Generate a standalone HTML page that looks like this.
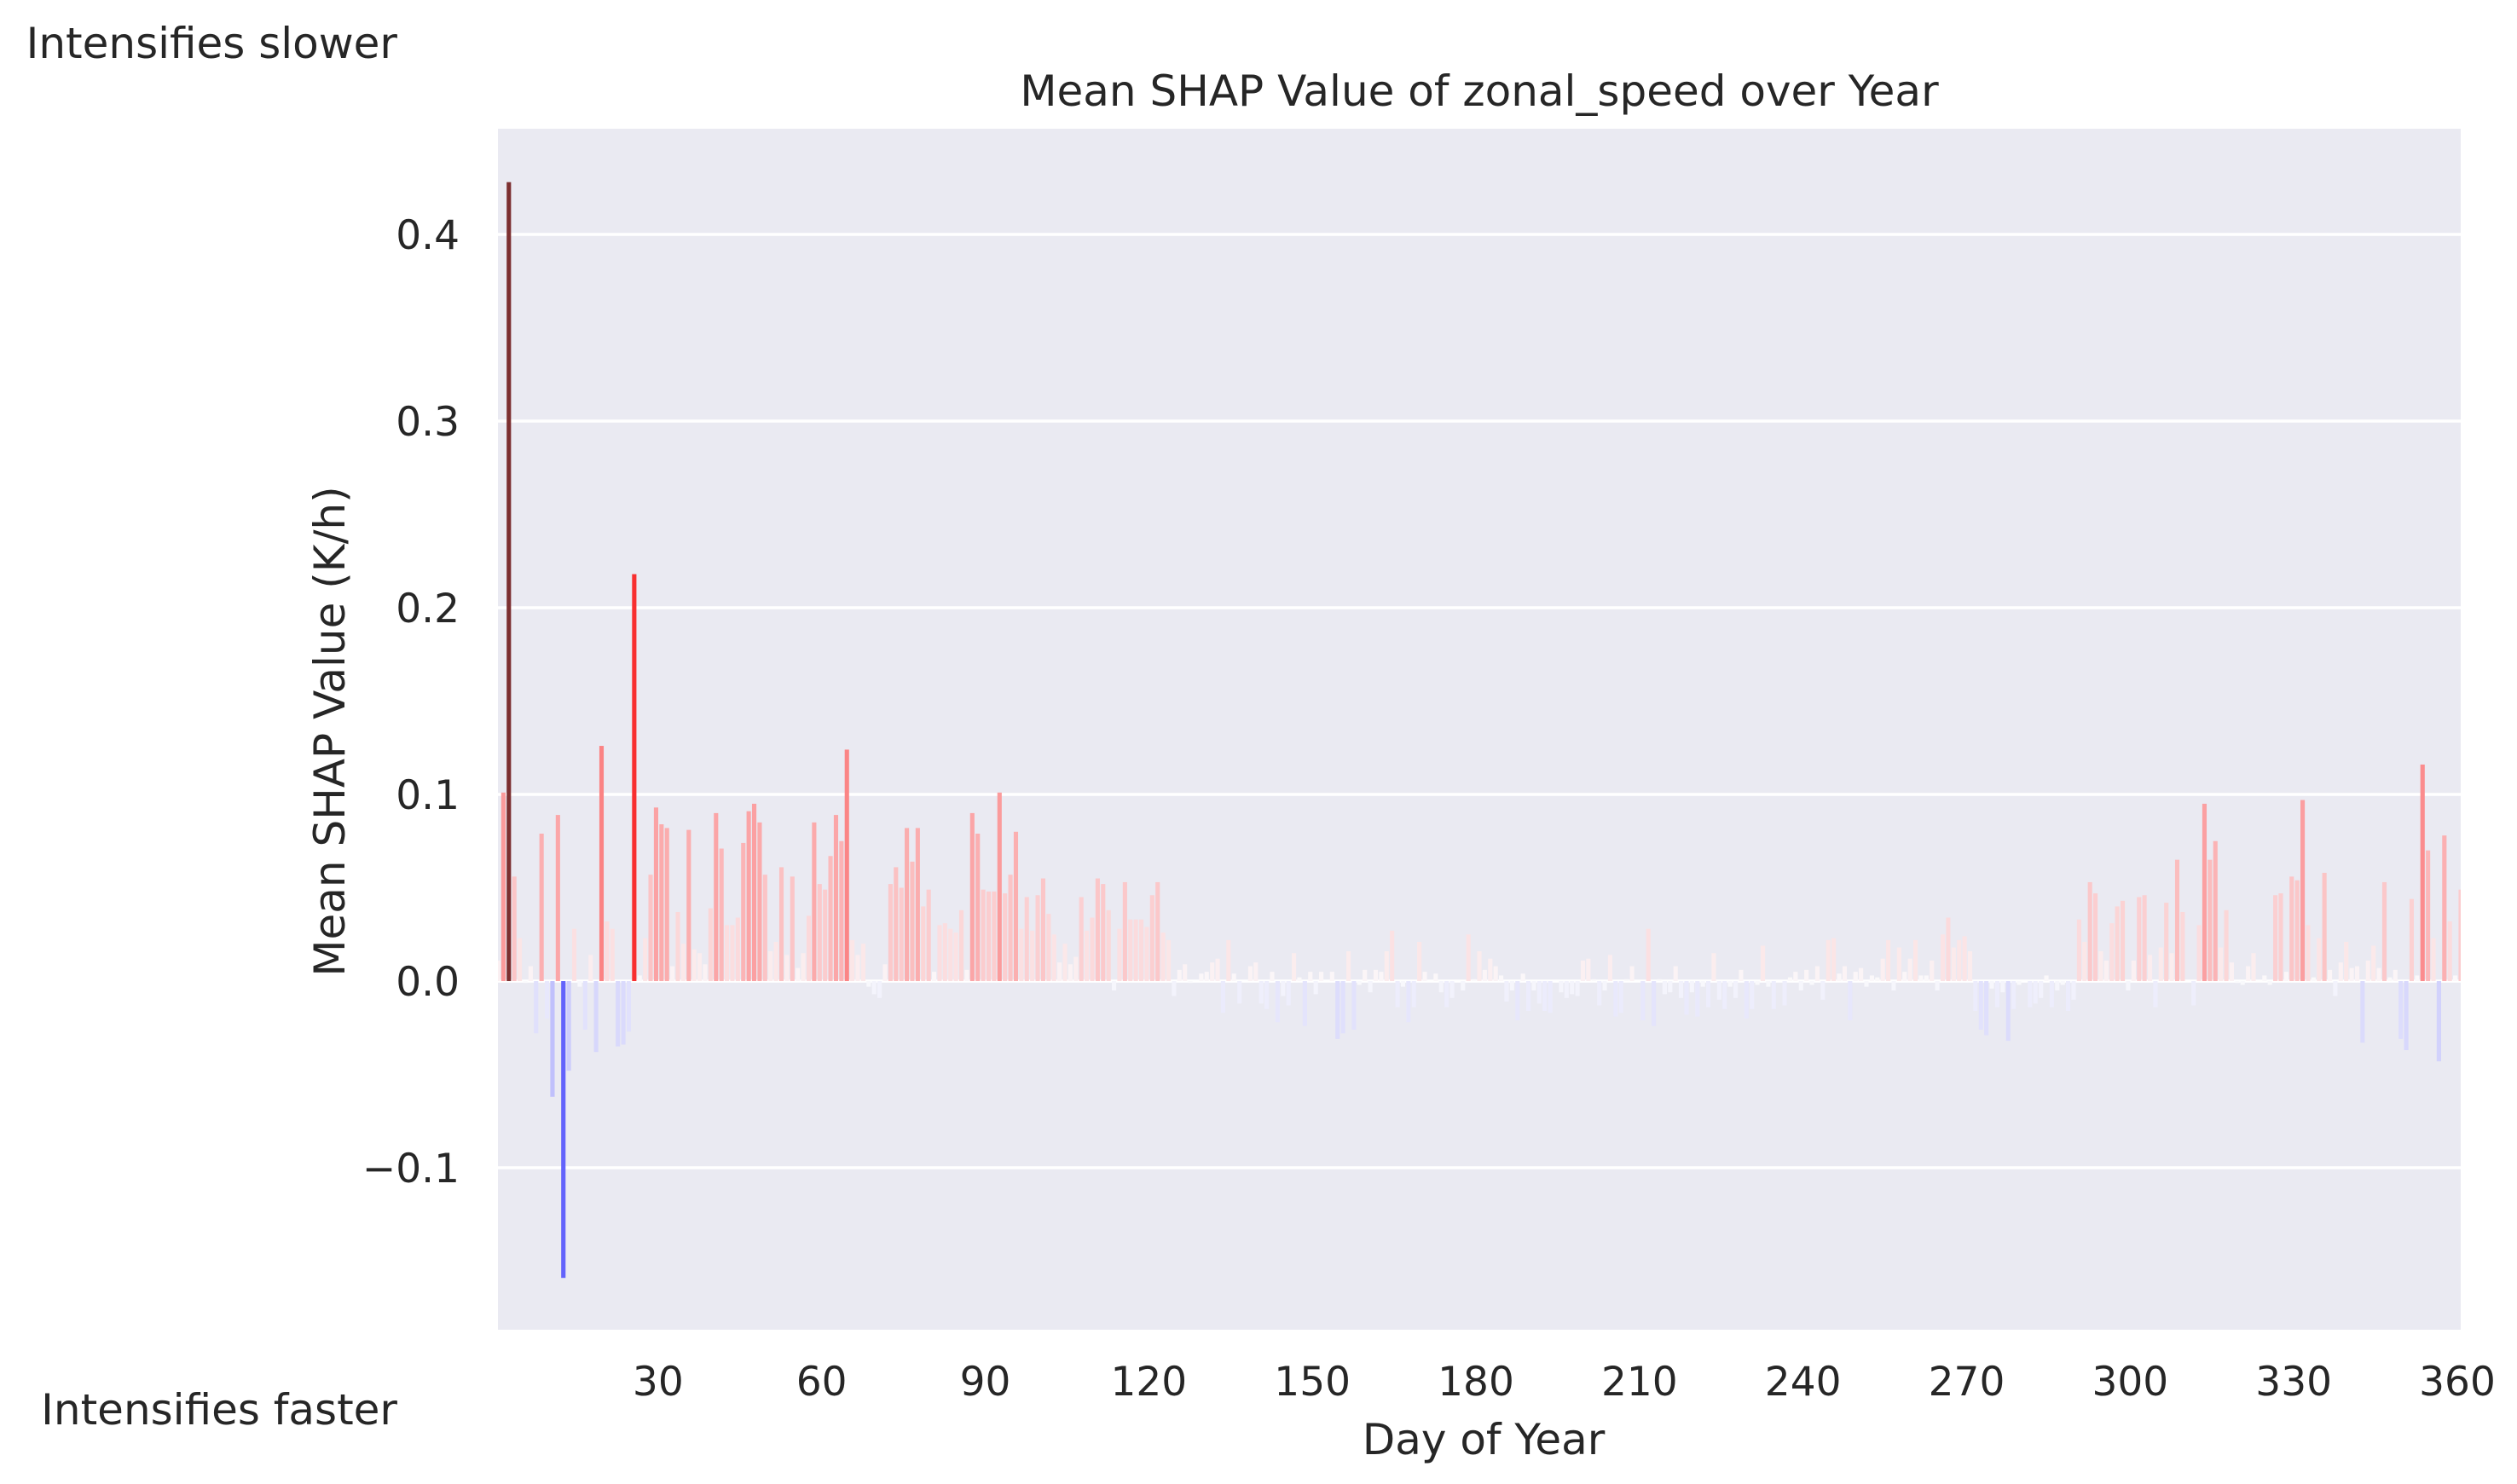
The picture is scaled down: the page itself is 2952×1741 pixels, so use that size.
<!DOCTYPE html>
<html><head><meta charset="utf-8"><style>
html,body{margin:0;padding:0;background:#fff;}
svg{display:block;}
text{font-family:"DejaVu Sans","Liberation Sans",sans-serif;fill:#262626;}
</style></head><body>
<svg id="chart" width="2952" height="1741" viewBox="0 0 2952 1741" xmlns="http://www.w3.org/2000/svg">
<rect x="584" y="151" width="2302" height="1409" fill="#eaeaf2"/>
<g id="grid"></g>
<g id="bars"></g>
<g id="yticks"></g>
<g id="xticks"></g>
<text x="1735" y="124" font-size="50" text-anchor="middle">Mean SHAP Value of zonal_speed over Year</text>
<text x="1740" y="1706" font-size="50" text-anchor="middle">Day of Year</text>
<text x="0" y="0" font-size="50" text-anchor="middle" transform="translate(404,858) rotate(-90)">Mean SHAP Value (K/h)</text>
<text x="466" y="68" font-size="50" text-anchor="end">Intensifies slower</text>
<text x="466" y="1671" font-size="50" text-anchor="end">Intensifies faster</text>
</svg>
<script>
const days = [];
const shapValues = [
0.011,0.101,0.428,0.056,0.023,-0.001,0.008,-0.028,0.079,-0.02,
-0.062,0.089,-0.159,-0.048,0.028,-0.003,-0.026,0.014,-0.038,0.126,
0.032,0.028,-0.035,-0.034,-0.027,0.218,0.003,0.023,0.057,0.093,
0.084,0.082,0.008,0.037,0.02,0.081,0.017,0.015,0.009,0.039,
0.09,0.071,0.03,0.03,0.034,0.074,0.091,0.095,0.085,0.057,
0.016,0.021,0.061,0.014,0.056,0.007,0.015,0.035,0.085,0.052,
0.049,0.067,0.089,0.075,0.124,0.022,0.014,0.020,-0.003,-0.007,
-0.009,0.009,0.052,0.061,0.05,0.082,0.064,0.082,0.04,0.049,
0.005,0.03,0.031,0.028,0.026,0.038,0.006,0.09,0.079,0.049,
0.048,0.048,0.101,0.047,0.057,0.08,0.028,0.045,0.027,0.046,
0.055,0.036,0.025,0.01,0.02,0.009,0.013,0.045,0.027,0.034,
0.055,0.052,0.038,-0.005,0.028,0.053,0.033,0.033,
0.033,0.029,0.046,0.053,
0.026,0.022,-0.008,0.006,0.009,-0.001,0.0,0.004,0.005,0.010,
0.012,-0.017,0.022,0.004,-0.012,0.0,0.008,0.010,-0.012,-0.015,
0.005,-0.022,-0.008,-0.013,0.015,0.002,-0.024,0.005,-0.007,0.005,
0.0,0.005,-0.031,-0.028,0.016,-0.026,-0.002,0.006,-0.006,0.006,
0.005,0.016,0.027,-0.014,-0.003,-0.022,-0.014,0.021,0.005,0.0,
0.004,-0.006,-0.014,-0.009,0.0,-0.005,0.025,0.001,0.016,0.006,
0.012,0.008,0.003,-0.011,-0.005,-0.021,0.004,-0.016,-0.005,-0.012,
-0.016,-0.017,0.0,-0.006,-0.009,-0.007,-0.008,0.011,0.012,0.001,
-0.013,-0.005,0.014,-0.019,-0.017,0.001,0.008,0.0,-0.021,0.028,
-0.024,0.001,-0.007,-0.006,0.008,-0.009,-0.018,-0.006,-0.019,-0.003,
-0.014,0.015,-0.010,-0.015,-0.003,-0.009,0.006,-0.020,-0.015,-0.002,
0.019,-0.003,-0.015,0.0,-0.013,0.002,0.005,-0.005,0.006,-0.002,
0.008,-0.010,
0.022,0.023,0.004,0.008,-0.021,0.005,0.007,-0.003,0.003,0.002,
0.012,0.022,-0.005,0.018,0.005,0.012,0.022,0.003,0.003,0.011,
-0.005,0.025,0.034,0.018,0.022,0.024,0.016,-0.016,-0.026,-0.029,
-0.004,-0.014,-0.006,-0.032,-0.015,-0.002,0.0,-0.014,-0.012,-0.009,
0.003,-0.014,-0.005,-0.002,-0.016,-0.010,0.033,0.021,0.053,0.047,
0.016,0.011,0.031,0.040,0.043,-0.005,0.011,0.045,0.046,0.014,
-0.014,0.018,0.042,0.015,0.065,0.037,0.0,-0.013,0.030,0.095,
0.065,0.075,0.018,0.038,0.010,-0.001,-0.002,0.008,0.015,0.0,
0.003,-0.002,0.046,0.047,0.005,0.056,0.054,0.097,0.030,0.002,
0.023,0.058,0.006,-0.008,0.010,0.021,0.007,0.008,-0.033,0.011,
0.019,0.007,0.053,0.002,0.006,-0.031,-0.037,0.044,0.003,0.116,
0.070,0.023,-0.043,0.078,0.032,0.003,0.049
];
for (let i = 0; i < shapValues.length; i++) days.push(i);
const xTickLabels = ["30","60","90","120","150","180","210","240","270","300","330","360"];
const yTickLabels = ["\u22120.1","0.0","0.1","0.2","0.3","0.4"];
const yTickValues = [-0.1,0,0.1,0.2,0.3,0.4];

const NS = "http://www.w3.org/2000/svg";
const PL = 584, PR = 2886, PT = 151, PB = 1560;
const Y0 = 1151, YU = 2190;
const n = shapValues.length;
const step = (PR - PL) / (n - 1);
function xScale(i){ return PL + i * step; }
function yScale(v){ return Y0 - v * YU; }
const vmax = Math.max(...shapValues.map(Math.abs));
function color(v){
  let t = 0.5 + 0.5 * v / vmax;
  let r,g,b;
  if (t < 0.25){ const u=t/0.25; r=0; g=0; b=0.3+0.7*u; }
  else if (t < 0.5){ const u=(t-0.25)/0.25; r=u; g=u; b=1; }
  else if (t < 0.75){ const u=(t-0.5)/0.25; r=1; g=1-u; b=1-u; }
  else { const u=(t-0.75)/0.25; r=1-0.62*u; g=0; b=0; }
  const a=0.8, bg=[234,234,242];
  return `rgb(${Math.round(a*r*255+(1-a)*bg[0])},${Math.round(a*g*255+(1-a)*bg[1])},${Math.round(a*b*255+(1-a)*bg[2])})`;
}
const grid = document.getElementById('grid');
yTickValues.forEach((v,k)=>{
  const l = document.createElementNS(NS,'line');
  
  
  l.setAttribute('x1',PL); l.setAttribute('x2',PR);
  l.setAttribute('y1',yScale(v)); l.setAttribute('y2',yScale(v));
  l.setAttribute('stroke','#fff'); l.setAttribute('stroke-width','3.5');
  grid.appendChild(l);
  const t = document.createElementNS(NS,'text');
  
  
  t.setAttribute('x',539); t.setAttribute('y',yScale(v)+17);
  t.setAttribute('font-size','47'); t.setAttribute('text-anchor','end');
  t.textContent = yTickLabels[k];
  document.getElementById('yticks').appendChild(t);
});
const clip = document.createElementNS(NS,'clipPath');
clip.setAttribute('id','plotclip');
const cr = document.createElementNS(NS,'rect');
cr.setAttribute('x',PL); cr.setAttribute('y',PT); cr.setAttribute('width',PR-PL); cr.setAttribute('height',PB-PT);
clip.appendChild(cr);
document.getElementById('chart').appendChild(clip);
const barsG = document.getElementById('bars');
barsG.setAttribute('clip-path','url(#plotclip)');
const bw = step * 0.8;
days.forEach((d,i)=>{
  const v = shapValues[i];
  const r = document.createElementNS(NS,'rect');
  
  
  const y1 = yScale(Math.max(v,0)), y2 = yScale(Math.min(v,0));
  r.setAttribute('x', xScale(i) - bw/2);
  r.setAttribute('y', y1);
  r.setAttribute('width', bw);
  r.setAttribute('height', Math.max(y2-y1,0));
  r.setAttribute('fill', color(v));
  barsG.appendChild(r);
});
xTickLabels.forEach(lbl=>{
  const idx = parseInt(lbl,10);
  const t = document.createElementNS(NS,'text');
  
  
  t.setAttribute('x', xScale(idx) - 4); t.setAttribute('y', 1637);
  t.setAttribute('font-size','47'); t.setAttribute('text-anchor','middle');
  t.textContent = lbl;
  document.getElementById('xticks').appendChild(t);
});
</script>
</body></html>
